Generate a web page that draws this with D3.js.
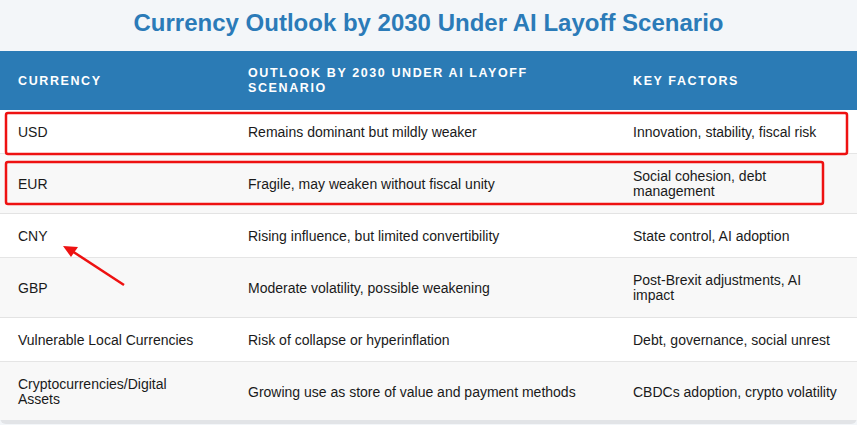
<!DOCTYPE html>
<html><head><meta charset="utf-8">
<script src="https://cdn.jsdelivr.net/npm/d3@7"></script>
<style>body{margin:0;background:#f3f6f9;}svg{display:block;font-family:"Liberation Sans",Arial,sans-serif;}</style>
</head><body><div id="c"></div>
<script>
const title = "Currency Outlook by 2030 Under AI Layoff Scenario";
const headers = ["CURRENCY", "OUTLOOK BY 2030 UNDER AI LAYOFF\nSCENARIO", "KEY FACTORS"];
const currencies = ["USD","EUR","CNY","GBP","Vulnerable Local Currencies","Cryptocurrencies/Digital\nAssets"];
const outlooks = ["Remains dominant but mildly weaker","Fragile, may weaken without fiscal unity","Rising influence, but limited convertibility","Moderate volatility, possible weakening","Risk of collapse or hyperinflation","Growing use as store of value and payment methods"];
const factors = ["Innovation, stability, fiscal risk","Social cohesion, debt\nmanagement","State control, AI adoption","Post-Brexit adjustments, AI\nimpact","Debt, governance, social unrest","CBDCs adoption, crypto volatility"];
const highlighted = ["USD","EUR"];

const W=857,H=425;
const svg=d3.select("#c").append("svg").attr("width",W).attr("height",H);
svg.append("rect").attr("width",W).attr("height",H).attr("fill","#f3f6f9");
svg.append("text").attr("x",W/2).attr("y",31).attr("text-anchor","middle")
  .attr("font-size",24).attr("font-weight","bold").attr("fill","#2b7bb8").text(title);

const colX=[18,248,633];
const headTop=51, headH=59;
const rows=currencies.map((c,i)=>({c,o:outlooks[i],f:factors[i]}));
const lines=r=>Math.max(...[r.c,r.o,r.f].map(s=>s.split("\n").length));
let y=headTop+headH;
rows.forEach(r=>{r.y=y;r.h=lines(r)>1?60:44;y+=r.h;});
const bottom=y;

svg.append("rect").attr("x",0).attr("y",headTop).attr("width",W).attr("height",bottom-headTop+2).attr("rx",6).attr("fill","#e2e4e7");
svg.append("rect").attr("x",0).attr("y",headTop).attr("width",W).attr("height",headH).attr("fill","#2b7bb5");

function multi(g,x,yc,s,size,lh){
  const ls=s.split("\n");
  const t=g.append("text").attr("x",x).attr("font-size",size);
  ls.forEach((l,i)=>t.append("tspan").attr("x",x).attr("y",yc+(i-(ls.length-1)/2)*lh).attr("dy","0.35em").text(l));
  return t;
}
headers.forEach((h,i)=>multi(svg,colX[i],headTop+headH/2,h,12.5,15).attr("fill","#fff").attr("font-weight","bold").attr("letter-spacing",1.6));

const g=svg.selectAll("g.row").data(rows).join("g");
g.append("rect").attr("x",0).attr("y",d=>d.y).attr("width",W).attr("height",(d,i)=>i===rows.length-1?d.h-2:d.h)
  .attr("fill",(d,i)=>i%2?"#f8f8f8":"#fff");
g.append("line").attr("x1",0).attr("x2",W).attr("y1",d=>d.y+d.h).attr("y2",d=>d.y+d.h).attr("stroke","#dddddd").attr("stroke-width",(d,i)=>i===rows.length-1?0:1.5);
g.each(function(d){const s=d3.select(this);
  [d.c,d.o,d.f].forEach((t,i)=>multi(s,colX[i],d.y+d.h/2,t,14,15).attr("fill","#1a1a1a"));});

// annotations
const boxes=[{k:"USD",x0:6,x1:847,pad:[3,0]},{k:"EUR",x0:6,x1:823,pad:[8,10]}];
boxes.forEach(b=>{const r=rows.find(d=>d.c===b.k);
  svg.append("rect").attr("x",b.x0).attr("y",r.y+b.pad[0]).attr("width",b.x1-b.x0).attr("height",r.h-b.pad[0]-b.pad[1]).attr("rx",2)
   .attr("fill","none").attr("stroke","#ee1111").attr("stroke-width",2.5);});
svg.append("line").attr("x1",124).attr("y1",285).attr("x2",72).attr("y2",251).attr("stroke","#ee1111").attr("stroke-width",2.5);
svg.append("path").attr("d","M63,246 L78,247 L71,257 Z").attr("fill","#ee1111");
</script></body></html>
